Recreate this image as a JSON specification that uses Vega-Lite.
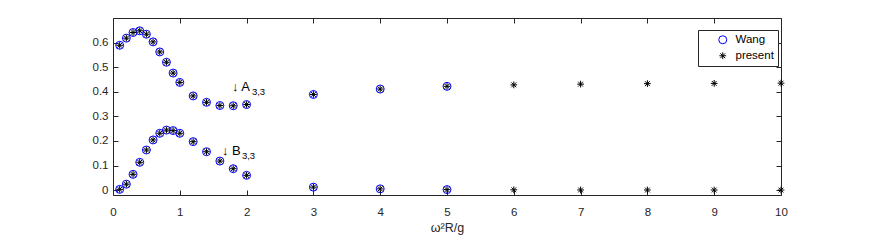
{
  "$schema": "https://vega.github.io/schema/vega-lite/v6.json",
  "width": 668,
  "height": 177,
  "autosize": "none",
  "padding": {"left": 113, "top": 18, "right": 91, "bottom": 46},
  "background": "white",
  "config": {
    "view": {"stroke": null},
    "font": "Liberation Sans",
    "axis": {
      "domainColor": "#262626",
      "tickColor": "#262626",
      "labelColor": "#262626",
      "titleColor": "#262626",
      "labelFont": "Liberation Sans",
      "titleFont": "Liberation Sans",
      "labelFontSize": 11.5,
      "titleFontSize": 12.5,
      "titleFontWeight": "normal",
      "grid": false,
      "tickSize": -5,
      "domainWidth": 1,
      "tickWidth": 1
    }
  },
  "datasets": {
    "pts": [
      {"series": "Wang", "x": 0.1, "A": 0.589, "B": 0.003},
      {"series": "Wang", "x": 0.2, "A": 0.618, "B": 0.024},
      {"series": "Wang", "x": 0.3, "A": 0.641, "B": 0.064},
      {"series": "Wang", "x": 0.4, "A": 0.648, "B": 0.113},
      {"series": "Wang", "x": 0.5, "A": 0.634, "B": 0.163},
      {"series": "Wang", "x": 0.6, "A": 0.603, "B": 0.204},
      {"series": "Wang", "x": 0.7, "A": 0.562, "B": 0.231},
      {"series": "Wang", "x": 0.8, "A": 0.520, "B": 0.244},
      {"series": "Wang", "x": 0.9, "A": 0.476, "B": 0.242},
      {"series": "Wang", "x": 1.0, "A": 0.438, "B": 0.231},
      {"series": "Wang", "x": 1.2, "A": 0.383, "B": 0.197},
      {"series": "Wang", "x": 1.4, "A": 0.357, "B": 0.156},
      {"series": "Wang", "x": 1.6, "A": 0.344, "B": 0.118},
      {"series": "Wang", "x": 1.8, "A": 0.343, "B": 0.087},
      {"series": "Wang", "x": 2.0, "A": 0.348, "B": 0.060},
      {"series": "Wang", "x": 3, "A": 0.389, "B": 0.012},
      {"series": "Wang", "x": 4, "A": 0.411, "B": 0.005},
      {"series": "Wang", "x": 5, "A": 0.422, "B": 0.002},
      {"series": "present", "x": 0.1, "A": 0.589, "B": 0.003},
      {"series": "present", "x": 0.2, "A": 0.618, "B": 0.024},
      {"series": "present", "x": 0.3, "A": 0.641, "B": 0.064},
      {"series": "present", "x": 0.4, "A": 0.648, "B": 0.113},
      {"series": "present", "x": 0.5, "A": 0.634, "B": 0.163},
      {"series": "present", "x": 0.6, "A": 0.603, "B": 0.204},
      {"series": "present", "x": 0.7, "A": 0.562, "B": 0.231},
      {"series": "present", "x": 0.8, "A": 0.520, "B": 0.244},
      {"series": "present", "x": 0.9, "A": 0.476, "B": 0.242},
      {"series": "present", "x": 1.0, "A": 0.438, "B": 0.231},
      {"series": "present", "x": 1.2, "A": 0.383, "B": 0.197},
      {"series": "present", "x": 1.4, "A": 0.357, "B": 0.156},
      {"series": "present", "x": 1.6, "A": 0.344, "B": 0.118},
      {"series": "present", "x": 1.8, "A": 0.343, "B": 0.087},
      {"series": "present", "x": 2.0, "A": 0.348, "B": 0.060},
      {"series": "present", "x": 3, "A": 0.389, "B": 0.012},
      {"series": "present", "x": 4, "A": 0.411, "B": 0.005},
      {"series": "present", "x": 5, "A": 0.422, "B": 0.002},
      {"series": "present", "x": 6, "A": 0.428, "B": 0.001},
      {"series": "present", "x": 7, "A": 0.431, "B": 0.0005},
      {"series": "present", "x": 8, "A": 0.433, "B": 0.0003},
      {"series": "present", "x": 9, "A": 0.434, "B": 0.0002},
      {"series": "present", "x": 10, "A": 0.435, "B": 0.0001}
    ],
    "notes": [
      {"x": 1.78, "y": 0.42, "label": "↓ A", "sub": "3,3"},
      {"x": 1.63, "y": 0.16, "label": "↓ B", "sub": "3,3"}
    ]
  },
  "layer": [
    {
      "data": {"name": "pts"},
      "transform": [{"fold": ["A", "B"], "as": ["coef", "value"]}],
      "mark": {"type": "point", "filled": false, "size": 64, "strokeWidth": 1, "opacity": 1},
      "encoding": {
        "x": {
          "field": "x", "type": "quantitative",
          "scale": {"domain": [0, 10], "nice": false, "zero": false},
          "axis": {"orient": "bottom", "values": [0,1,2,3,4,5,6,7,8,9,10], "title": "ω²R/g", "labelPadding": 16, "titlePadding": 4, "labelFlush": false}
        },
        "y": {
          "field": "value", "type": "quantitative",
          "scale": {"domain": [-0.02, 0.7], "nice": false, "zero": false},
          "axis": {"orient": "left", "values": [0, 0.1, 0.2, 0.3, 0.4, 0.5, 0.6], "format": ".1~f", "title": null, "labelPadding": 10, "labelFlush": false}
        },
        "stroke": {
          "field": "series", "type": "nominal",
          "scale": {"domain": ["Wang", "present"], "range": ["#0000ff", "#000000"]},
          "legend": {
            "title": null, "orient": "none", "legendX": 585, "legendY": 12,
            "padding": 4, "symbolOffset": 15, "labelOffset": 7, "rowPadding": 3,
            "strokeColor": "#262626", "fillColor": "white",
            "labelFont": "Liberation Sans", "labelFontSize": 11.5, "labelColor": "#000000",
            "symbolSize": 64, "symbolStrokeWidth": 1
          }
        },
        "shape": {
          "field": "series", "type": "nominal",
          "scale": {"domain": ["Wang", "present"], "range": ["circle", "M-0.85,0L0.85,0M0,-0.85L0,0.85M-0.6,-0.6L0.6,0.6M-0.6,0.6L0.6,-0.6"]},
          "legend": {
            "title": null, "orient": "none", "legendX": 585, "legendY": 12,
            "padding": 4, "symbolOffset": 15, "labelOffset": 7, "rowPadding": 3,
            "strokeColor": "#262626", "fillColor": "white",
            "labelFont": "Liberation Sans", "labelFontSize": 11.5, "labelColor": "#000000",
            "symbolSize": 64, "symbolStrokeWidth": 1
          }
        }
      }
    },
    {
      "data": {"name": "pts"},
      "mark": {"type": "point", "opacity": 0},
      "encoding": {
        "x": {
          "field": "x", "type": "quantitative",
          "axis": {"orient": "top", "values": [0,1,2,3,4,5,6,7,8,9,10], "labels": false, "title": null}
        },
        "y": {
          "field": "A", "type": "quantitative",
          "axis": {"orient": "right", "values": [0, 0.1, 0.2, 0.3, 0.4, 0.5, 0.6], "labels": false, "title": null}
        }
      }
    },
    {
      "data": {"name": "notes"},
      "mark": {"type": "text", "align": "left", "baseline": "middle", "font": "Liberation Sans", "fontSize": 13, "color": "#000000"},
      "encoding": {
        "x": {"field": "x", "type": "quantitative", "axis": null},
        "y": {"field": "y", "type": "quantitative", "axis": null},
        "text": {"field": "label"}
      }
    },
    {
      "data": {"name": "notes"},
      "mark": {"type": "text", "align": "left", "baseline": "middle", "font": "Liberation Sans", "fontSize": 9.5, "color": "#000000", "dx": 20, "dy": 5},
      "encoding": {
        "x": {"field": "x", "type": "quantitative", "axis": null},
        "y": {"field": "y", "type": "quantitative", "axis": null},
        "text": {"field": "sub"}
      }
    }
  ],
  "resolve": {"axis": {"x": "independent", "y": "independent"}}
}
